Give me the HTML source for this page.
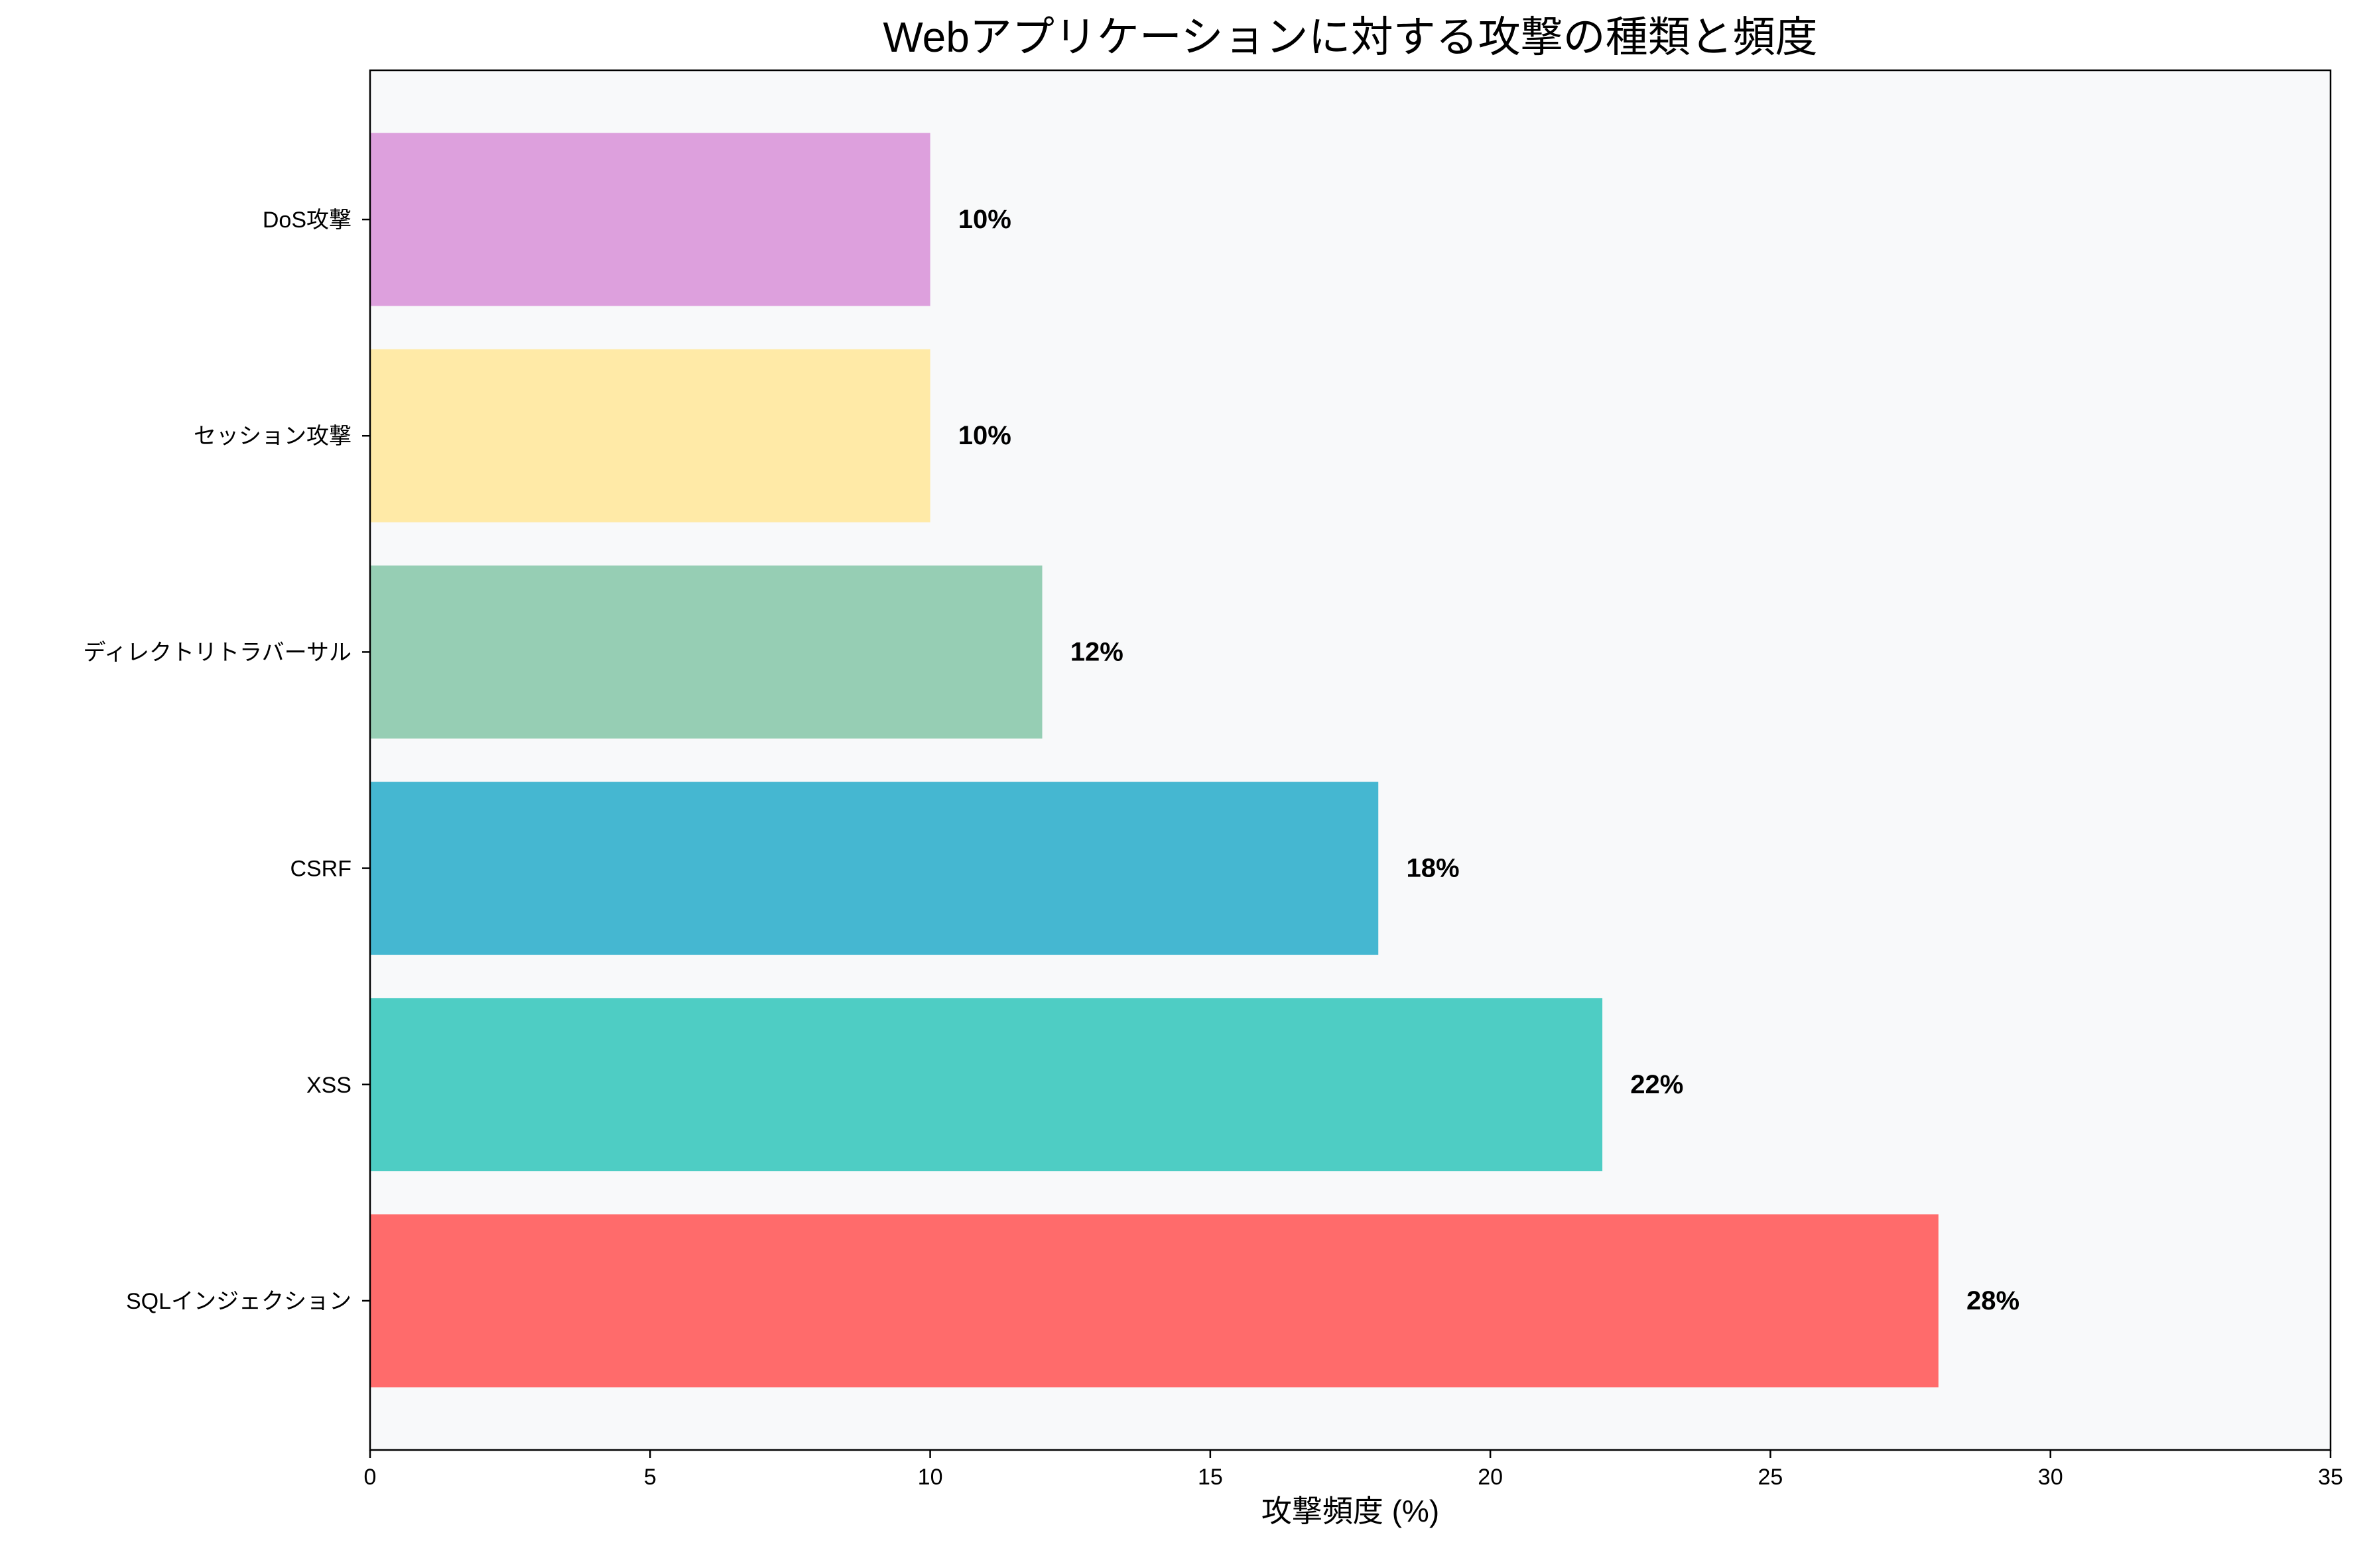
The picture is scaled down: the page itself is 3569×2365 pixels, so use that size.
<!DOCTYPE html>
<html><head><meta charset="utf-8">
<style>
html,body{margin:0;padding:0;background:#fff;}
svg{display:block;font-family:"Liberation Sans","Noto Sans CJK JP",sans-serif;}
</style></head>
<body>
<svg id="chart" width="3569" height="2365" viewBox="0 0 3569 2365" xmlns="http://www.w3.org/2000/svg">
<rect x="0" y="0" width="3569" height="2365" fill="#ffffff"/>
<rect x="558" y="106" width="2956" height="2081" fill="#f8f9fa"/>
<g id="bars"></g>
<g id="ticks"></g>
<rect x="558" y="106" width="2956" height="2081" fill="none" stroke="#000" stroke-width="2.5"/>
<text x="2036" y="78" font-size="64" text-anchor="middle" font-family="Liberation Sans, Noto Sans CJK JP, sans-serif">Webアプリケーションに対する攻撃の種類と頻度</text>
<text x="2036" y="2295" font-size="46" text-anchor="middle">攻撃頻度 (%)</text>
</svg>
<script>
const categories = ["SQLインジェクション","XSS","CSRF","ディレクトリトラバーサル","セッション攻撃","DoS攻撃"];
const values = [28,22,18,12,10,10];
const colors = ["#FF6B6B","#4ECDC4","#45B7D1","#96CEB4","#FFEAA7","#DDA0DD"];
const xTicks = [0,5,10,15,20,25,30,35];

const X0=558, X1=3514, Y0=106, Y1=2187;
const xMin=0, xMax=35;
const yMin=-0.69, yMax=5.69;
function xs(v){return X0+(v-xMin)/(xMax-xMin)*(X1-X0);}
function ys(v){return Y1-(v-yMin)/(yMax-yMin)*(Y1-Y0);}
const NS="http://www.w3.org/2000/svg";
const bars=document.getElementById('bars');
const ticks=document.getElementById('ticks');
function mk(tag,attrs,parent){const e=document.createElementNS(NS,tag);for(const k in attrs)e.setAttribute(k,attrs[k]);parent.appendChild(e);return e;}

categories.forEach((c,i)=>{
  const top=ys(i+0.4), bot=ys(i-0.4);
  const r=mk('rect',{x:xs(0),y:top,width:xs(values[i])-xs(0),height:bot-top,fill:colors[i]},bars);
  
  
  const t=mk('text',{x:xs(values[i]+0.5),y:ys(i)+13,'font-size':40,'font-weight':'bold'},bars);
  
  
  t.textContent=values[i]+'%';
  const tk=mk('line',{x1:X0-12,x2:X0,y1:ys(i),y2:ys(i),stroke:'#000','stroke-width':2.5},ticks);
  
  
  const yl=mk('text',{x:X0-28,y:ys(i)+12,'font-size':34,'text-anchor':'end'},ticks);
  
  
  yl.textContent=c;
});
xTicks.forEach(v=>{
  const tk=mk('line',{x1:xs(v),x2:xs(v),y1:Y1,y2:Y1+12,stroke:'#000','stroke-width':2.5},ticks);
  
  
  const tl=mk('text',{x:xs(v),y:Y1+52,'font-size':34,'text-anchor':'middle'},ticks);
  
  
  tl.textContent=v;
});
</script>
</body></html>
